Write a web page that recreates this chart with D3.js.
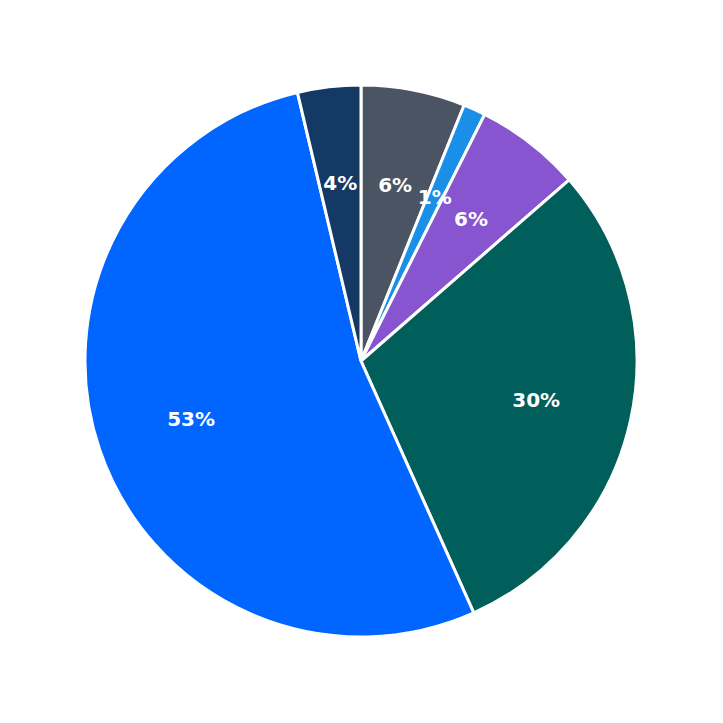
<!DOCTYPE html>
<html><head><meta charset="utf-8">
<script src="https://cdn.jsdelivr.net/npm/d3@7"></script>
<style>body{margin:0;background:#fff}</style>
</head><body><div id="chart"></div>
<script>
const labels = ["A", "B", "C", "D", "E", "F"];
const values = [6.1, 1.3, 6.2, 29.7, 53.0, 3.7];
const colors = ["#4a5462", "#1a8fe8", "#8655cf", "#005e5b", "#0066ff", "#143965"];

const width = 723, height = 723, radius = 276;
const svg = d3.select("#chart").append("svg")
    .attr("width", width).attr("height", height)
    .append("g")
    .attr("transform", `translate(361,361)`);

const pie = d3.pie().value((d) => d.v).sort(null);
const arc = d3.arc().innerRadius(0).outerRadius(radius);
const labelArc = d3.arc().innerRadius(radius * 0.65).outerRadius(radius * 0.65);
const data = pie(values.map((v, i) => ({ v, c: colors[i], l: labels[i] })));

svg.selectAll("path").data(data).enter().append("path")
    .attr("d", arc)
    .attr("fill", (d) => d.data.c)
    .attr("stroke", "#fff")
    .attr("stroke-width", 3);

svg.selectAll("text").data(data).enter().append("text")
    .attr("transform", (d) => `translate(${labelArc.centroid(d)})`)
    .attr("text-anchor", "middle")
    .attr("dy", "0.35em")
    .attr("fill", "#fff")
    .style("font-family", "DejaVu Sans")
    .style("font-weight", "bold")
    .style("font-size", "20px")
    .text((d) => Math.round(d.data.v) + "%");
</script></body></html>
